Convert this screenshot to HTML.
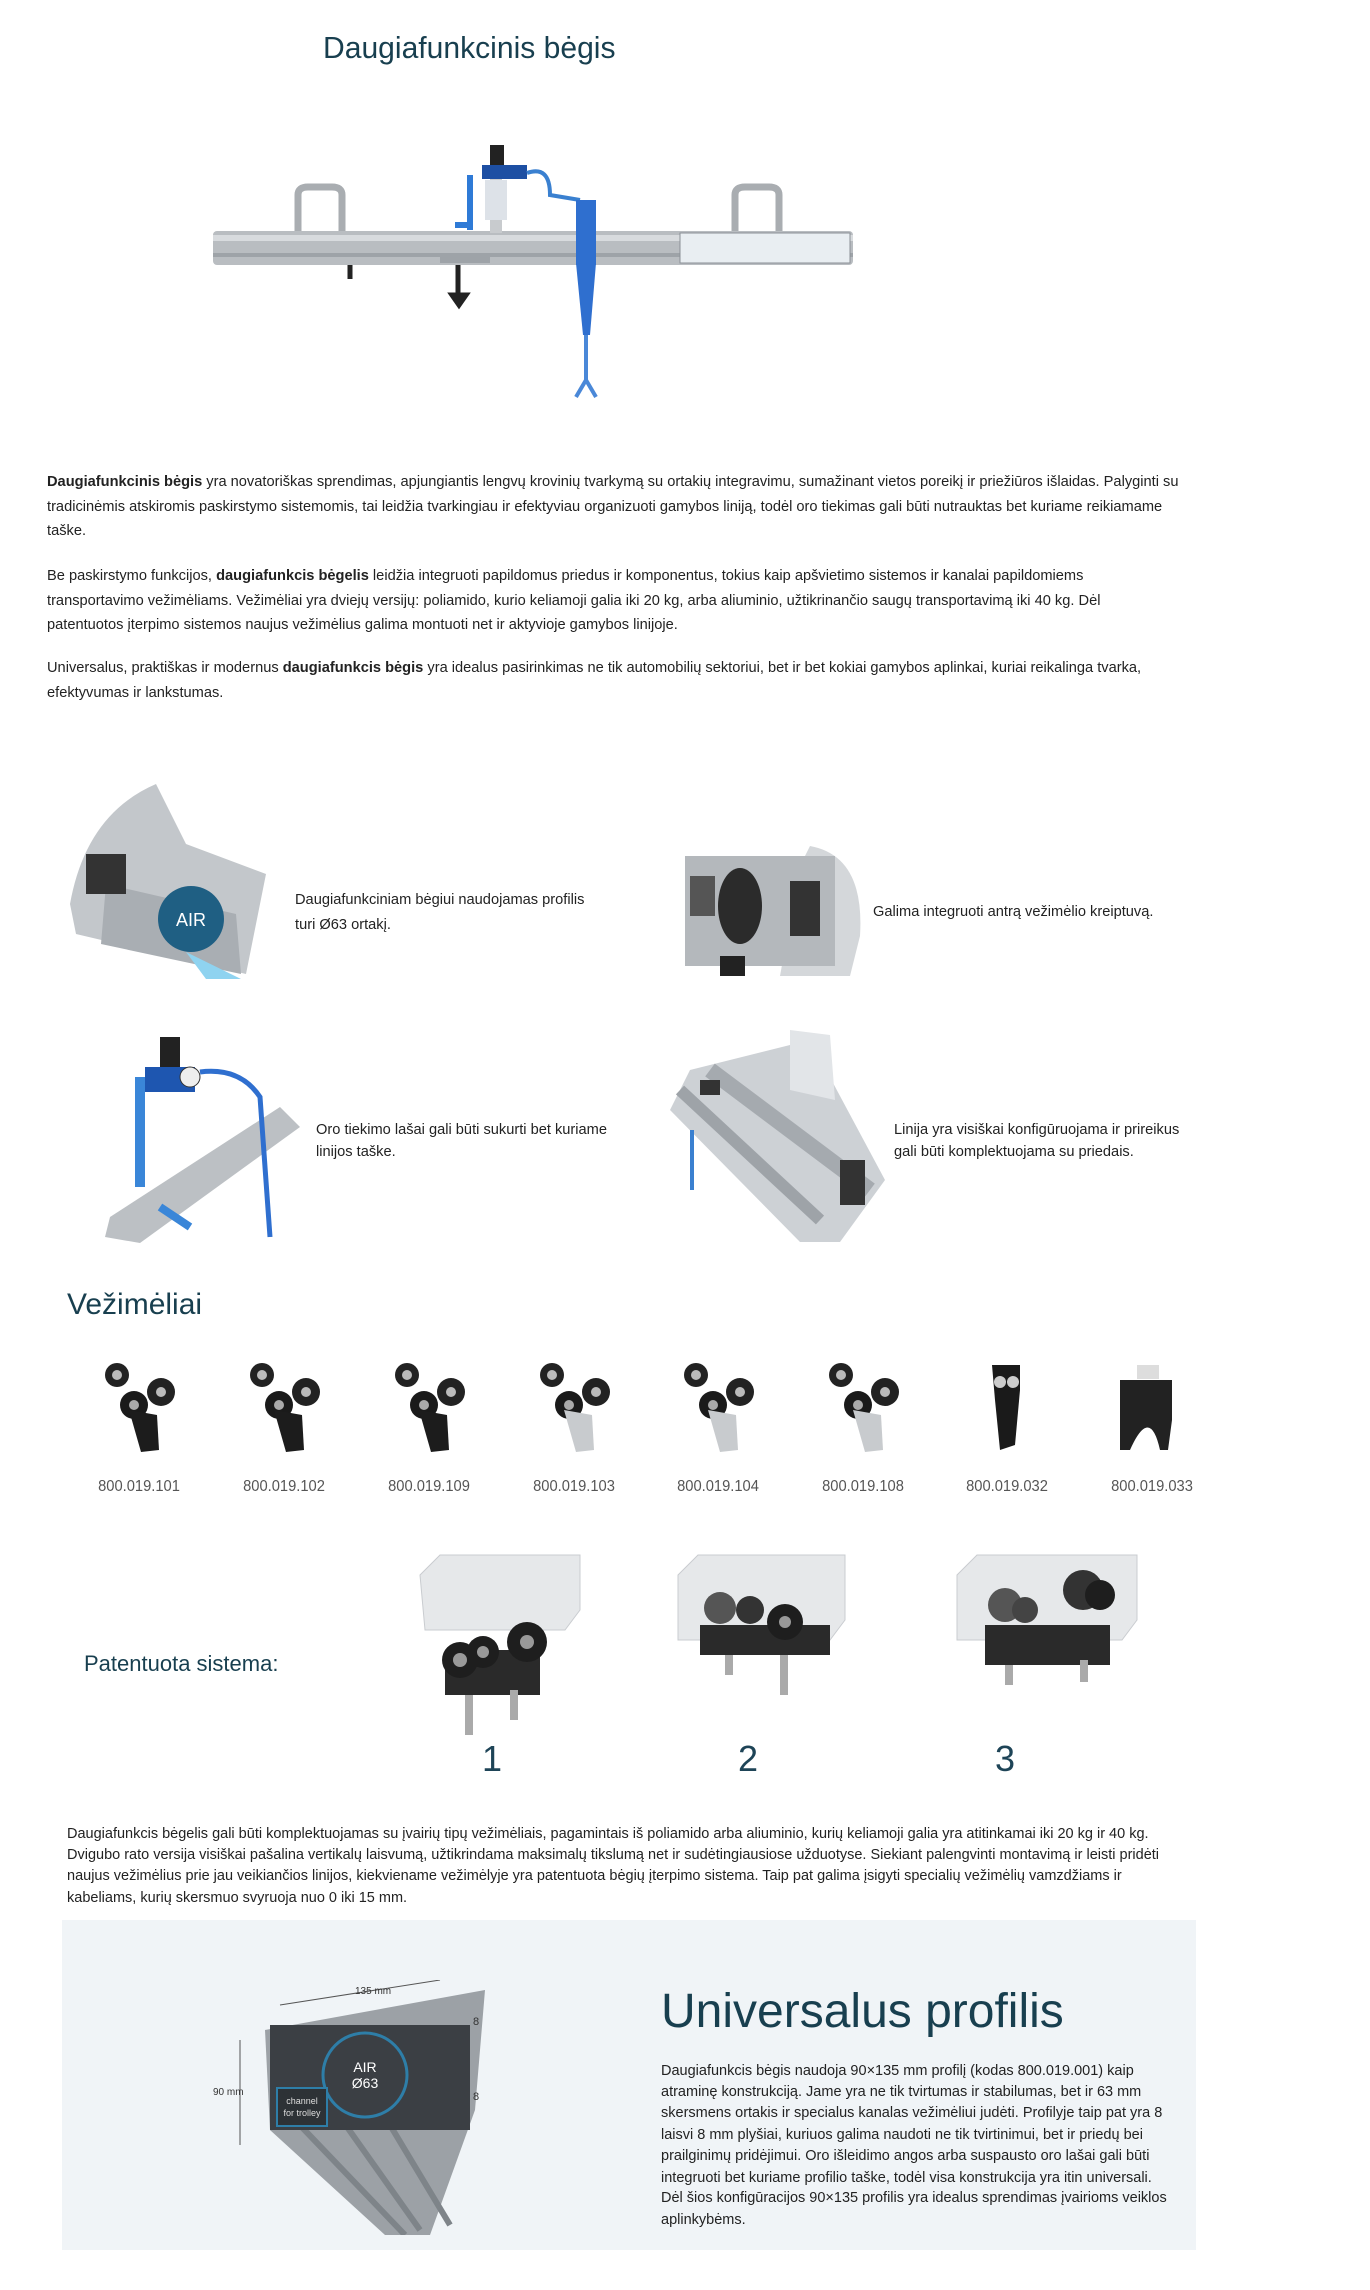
<!DOCTYPE html>
<html><head><meta charset="utf-8">
<style>
*{margin:0;padding:0;box-sizing:border-box}
body{width:1370px;height:2290px;background:#fff;position:relative;overflow:hidden;font-family:"Liberation Sans",sans-serif;color:#222}
.a{position:absolute}
.l{position:absolute;white-space:nowrap;font-size:15px;line-height:18px;transform:scaleX(.975);transform-origin:left center;color:#222}
.h{color:#183f4f}
.lab{position:absolute;font-size:16px;color:#555;transform:translateX(-50%) scaleX(.92);white-space:nowrap}
.num{position:absolute;font-size:36px;color:#1e4457;transform:translateX(-50%)}
</style></head><body>

<div class="a h" style="left:323px;top:30px;font-size:31px;transform:scaleX(.97);transform-origin:left;white-space:nowrap">Daugiafunkcinis bėgis</div>

<!-- hero rail -->
<svg class="a" style="left:200px;top:135px" width="680" height="270">
 <rect x="13" y="96" width="640" height="34" rx="4" fill="#b9bdc1"/>
 <rect x="13" y="100" width="640" height="6" fill="#d8dbde"/>
 <rect x="13" y="118" width="640" height="4" fill="#9ea3a8"/>
 <rect x="480" y="98" width="170" height="30" fill="#e9eef2" stroke="#8a9096"/>
 <path d="M98 96 V60 Q98 52 108 52 H132 Q142 52 142 60 V96" fill="none" stroke="#a9adb1" stroke-width="7"/>
 <path d="M535 96 V60 Q535 52 545 52 H569 Q579 52 579 60 V96" fill="none" stroke="#a9adb1" stroke-width="7"/>
 <rect x="290" y="42" width="12" height="56" fill="#c8cbce"/>
 <rect x="290" y="10" width="14" height="26" fill="#222"/>
 <rect x="282" y="30" width="45" height="14" fill="#1d4fa3"/>
 <rect x="285" y="45" width="22" height="40" fill="#dde2e8"/>
 <path d="M327 38 Q350 30 350 60 L380 65" fill="none" stroke="#3a80d0" stroke-width="4"/>
 <path d="M270 40 V95 M255 90 H270" stroke="#2f7ad6" stroke-width="6"/>
 <path d="M376 128 L396 128 L390 200 L383 200 Z" fill="#2f6fcf"/>
 <rect x="376" y="65" width="20" height="65" fill="#2f6fcf"/>
 <path d="M386 200 V245 L376 262 M386 245 L396 262" stroke="#4a88d8" stroke-width="4" fill="none"/>
 <path d="M150 130 v14 M258 130 v30 M252 160 h14 l-7 10z" stroke="#222" stroke-width="5" fill="#222"/>
 <rect x="240" y="120" width="50" height="8" fill="#9ea3a8"/>
</svg>

<div class="l" style="left:47px;top:473px"><b>Daugiafunkcinis bėgis</b> yra novatoriškas sprendimas, apjungiantis lengvų krovinių tvarkymą su ortakių integravimu, sumažinant vietos poreikį ir priežiūros išlaidas. Palyginti su</div>
<div class="l" style="left:47px;top:498px">tradicinėmis atskiromis paskirstymo sistemomis, tai leidžia tvarkingiau ir efektyviau organizuoti gamybos liniją, todėl oro tiekimas gali būti nutrauktas bet kuriame reikiamame</div>
<div class="l" style="left:47px;top:522px">taške.</div>
<div class="l" style="left:47px;top:567px">Be paskirstymo funkcijos, <b>daugiafunkcis bėgelis</b> leidžia integruoti papildomus priedus ir komponentus, tokius kaip apšvietimo sistemos ir kanalai papildomiems</div>
<div class="l" style="left:47px;top:592px">transportavimo vežimėliams. Vežimėliai yra dviejų versijų: poliamido, kurio keliamoji galia iki 20 kg, arba aliuminio, užtikrinančio saugų transportavimą iki 40 kg. Dėl</div>
<div class="l" style="left:47px;top:616px">patentuotos įterpimo sistemos naujus vežimėlius galima montuoti net ir aktyvioje gamybos linijoje.</div>
<div class="l" style="left:47px;top:659px">Universalus, praktiškas ir modernus <b>daugiafunkcis bėgis</b> yra idealus pasirinkimas ne tik automobilių sektoriui, bet ir bet kokiai gamybos aplinkai, kuriai reikalinga tvarka,</div>
<div class="l" style="left:47px;top:684px">efektyvumas ir lankstumas.</div>

<!-- feature images -->
<svg class="a" style="left:66px;top:784px" width="210" height="195">
 <path d="M90 0 Q20 30 4 120 L10 150 L180 190 L200 90 L120 60 Z" fill="#c3c7cb"/>
 <path d="M40 100 L170 130 L175 190 L35 160Z" fill="#a9aeb3"/>
 <rect x="20" y="70" width="40" height="40" fill="#333"/>
 <circle cx="125" cy="135" r="33" fill="#1f5f83"/>
 <text x="125" y="142" font-size="18" fill="#fff" text-anchor="middle" font-family="Liberation Sans">AIR</text>
 <path d="M120 168 L175 195 L140 195Z" fill="#8fd3f0"/>
</svg>
<div class="l" style="left:295px;top:891px">Daugiafunkciniam bėgiui naudojamas profilis</div>
<div class="l" style="left:295px;top:916px">turi Ø63 ortakį.</div>

<svg class="a" style="left:680px;top:836px" width="185" height="142">
 <path d="M130 10 Q185 20 180 100 L170 140 L100 140 L120 30Z" fill="#d4d7da"/>
 <rect x="5" y="20" width="150" height="110" fill="#b4b8bc"/>
 <ellipse cx="60" cy="70" rx="22" ry="38" fill="#2b2b2b"/>
 <rect x="10" y="40" width="25" height="40" fill="#555"/>
 <rect x="110" y="45" width="30" height="55" fill="#333"/>
 <rect x="40" y="120" width="25" height="20" fill="#222"/>
</svg>
<div class="l" style="left:873px;top:903px">Galima integruoti antrą vežimėlio kreiptuvą.</div>

<svg class="a" style="left:100px;top:1037px" width="200" height="206">
 <path d="M10 180 L180 70 L200 90 L40 206 L5 200Z" fill="#bcc0c4"/>
 <rect x="60" y="0" width="20" height="30" fill="#222"/>
 <rect x="45" y="30" width="50" height="25" fill="#1e56b0"/>
 <circle cx="90" cy="40" r="10" fill="#eee" stroke="#333"/>
 <path d="M40 40 V150" stroke="#3a86d8" stroke-width="10"/>
 <path d="M100 35 Q140 30 160 60 L170 200" stroke="#2f6fcf" stroke-width="5" fill="none"/>
 <path d="M60 170 L90 190" stroke="#3a86d8" stroke-width="8"/>
</svg>
<div class="l" style="left:316px;top:1121px">Oro tiekimo lašai gali būti sukurti bet kuriame</div>
<div class="l" style="left:316px;top:1143px">linijos taške.</div>

<svg class="a" style="left:670px;top:1030px" width="215" height="212">
 <path d="M20 40 L140 10 L215 150 L170 212 L130 212 L0 80Z" fill="#cdd1d5"/>
 <path d="M10 60 L150 190" stroke="#9ea3a8" stroke-width="12"/>
 <path d="M40 40 L200 160" stroke="#a5aaaf" stroke-width="16"/>
 <path d="M120 0 L160 5 L165 70 L120 60Z" fill="#e2e5e8"/>
 <rect x="30" y="50" width="20" height="15" fill="#333"/>
 <rect x="170" y="130" width="25" height="45" fill="#333"/>
 <path d="M22 100 V160" stroke="#3a80d0" stroke-width="4"/>
</svg>
<div class="l" style="left:894px;top:1121px">Linija yra visiškai konfigūruojama ir prireikus</div>
<div class="l" style="left:894px;top:1143px">gali būti komplektuojama su priedais.</div>

<div class="a h" style="left:67px;top:1288px;font-size:30px;white-space:nowrap">Vežimėliai</div>

<!-- trolleys -->
<svg class="a" style="left:0;top:1360px" width="1370" height="100">
 <defs>
  <g id="tb"><circle cx="-22" cy="15" r="12" fill="#222"/><circle cx="-22" cy="15" r="5" fill="#bbb"/><circle cx="22" cy="32" r="14" fill="#222"/><circle cx="22" cy="32" r="5" fill="#bbb"/><circle cx="-5" cy="45" r="14" fill="#1a1a1a"/><circle cx="-5" cy="45" r="5" fill="#aaa"/><path d="M-10 50 L18 55 L20 90 L2 92Z" fill="currentColor"/></g>
 </defs>
 <use href="#tb" x="139" style="color:#1c1c1c"/>
 <use href="#tb" x="284" style="color:#1c1c1c"/>
 <use href="#tb" x="429" style="color:#1c1c1c"/>
 <use href="#tb" x="574" style="color:#c8cbce"/>
 <use href="#tb" x="718" style="color:#c8cbce"/>
 <use href="#tb" x="863" style="color:#c8cbce"/>
 <path d="M992 5 H1020 V30 L1015 85 L1000 90 L995 40Z" fill="#1a1a1a"/>
 <circle cx="1000" cy="22" r="6" fill="#ccc"/><circle cx="1013" cy="22" r="6" fill="#ccc"/>
 <rect x="1137" y="5" width="22" height="14" fill="#ddd"/>
 <path d="M1120 20 H1172 V60 L1168 90 L1160 90 Q1150 45 1130 90 L1120 90Z" fill="#222"/>
</svg>
<div class="lab" style="left:139px;top:1478px">800.019.101</div>
<div class="lab" style="left:284px;top:1478px">800.019.102</div>
<div class="lab" style="left:429px;top:1478px">800.019.109</div>
<div class="lab" style="left:574px;top:1478px">800.019.103</div>
<div class="lab" style="left:718px;top:1478px">800.019.104</div>
<div class="lab" style="left:863px;top:1478px">800.019.108</div>
<div class="lab" style="left:1007px;top:1478px">800.019.032</div>
<div class="lab" style="left:1152px;top:1478px">800.019.033</div>

<div class="a h" style="left:84px;top:1651px;font-size:22px;white-space:nowrap">Patentuota sistema:</div>

<svg class="a" style="left:415px;top:1550px" width="740" height="195">
 <path d="M5 25 L25 5 H165 V60 L150 80 H10 Z" fill="#e6e8ea" stroke="#c9ccd0"/>
 <rect x="30" y="100" width="95" height="45" fill="#2a2a2a"/>
 <circle cx="45" cy="110" r="18" fill="#1e1e1e"/><circle cx="45" cy="110" r="7" fill="#999"/>
 <circle cx="68" cy="102" r="16" fill="#1e1e1e"/><circle cx="68" cy="102" r="6" fill="#999"/>
 <circle cx="112" cy="92" r="20" fill="#1e1e1e"/><circle cx="112" cy="92" r="7" fill="#999"/>
 <rect x="50" y="145" width="8" height="40" fill="#aaa"/><rect x="95" y="140" width="8" height="30" fill="#aaa"/>
 <path d="M263 25 L283 5 H430 V70 L415 90 H263Z" fill="#e6e8ea" stroke="#c9ccd0"/>
 <rect x="285" y="75" width="130" height="30" fill="#2a2a2a"/>
 <circle cx="305" cy="58" r="16" fill="#555"/><circle cx="335" cy="60" r="14" fill="#333"/><circle cx="370" cy="72" r="18" fill="#1e1e1e"/><circle cx="370" cy="72" r="6" fill="#999"/>
 <rect x="310" y="105" width="8" height="20" fill="#aaa"/><rect x="365" y="105" width="8" height="40" fill="#aaa"/>
 <path d="M542 25 L562 5 H722 V70 L707 90 H542Z" fill="#e6e8ea" stroke="#c9ccd0"/>
 <rect x="570" y="75" width="125" height="40" fill="#2a2a2a"/>
 <circle cx="590" cy="55" r="17" fill="#555"/><circle cx="610" cy="60" r="13" fill="#444"/><circle cx="668" cy="40" r="20" fill="#333"/><circle cx="685" cy="45" r="15" fill="#1e1e1e"/>
 <rect x="590" y="115" width="8" height="20" fill="#aaa"/><rect x="665" y="110" width="8" height="22" fill="#aaa"/>
</svg>
<div class="num" style="left:492px;top:1738px">1</div>
<div class="num" style="left:748px;top:1738px">2</div>
<div class="num" style="left:1005px;top:1738px">3</div>

<div class="l" style="left:67px;top:1825px;font-size:14.5px;transform:scaleX(1)">Daugiafunkcis bėgelis gali būti komplektuojamas su įvairių tipų vežimėliais, pagamintais iš poliamido arba aliuminio, kurių keliamoji galia yra atitinkamai iki 20 kg ir 40 kg.</div>
<div class="l" style="left:67px;top:1846px;font-size:14.5px;transform:scaleX(1)">Dvigubo rato versija visiškai pašalina vertikalų laisvumą, užtikrindama maksimalų tikslumą net ir sudėtingiausiose užduotyse. Siekiant palengvinti montavimą ir leisti pridėti</div>
<div class="l" style="left:67px;top:1867px;font-size:14.5px;transform:scaleX(1)">naujus vežimėlius prie jau veikiančios linijos, kiekviename vežimėlyje yra patentuota bėgių įterpimo sistema. Taip pat galima įsigyti specialių vežimėlių vamzdžiams ir</div>
<div class="l" style="left:67px;top:1889px;font-size:14.5px;transform:scaleX(1)">kabeliams, kurių skersmuo svyruoja nuo 0 iki 15 mm.</div>

<div class="a" style="left:62px;top:1920px;width:1134px;height:330px;background:#f0f4f7"></div>
<svg class="a" style="left:205px;top:1980px" width="280" height="255">
 <path d="M60 50 L280 10 L270 130 L225 255 L180 255 L65 150Z" fill="#9ca1a6"/>
 <path d="M90 140 L200 255 M130 130 L215 250 M170 120 L245 245" stroke="#7e8489" stroke-width="6"/>
 <rect x="65" y="45" width="200" height="105" fill="#3b3f44"/>
 <circle cx="160" cy="95" r="42" fill="#3b3f44" stroke="#2e7ea8" stroke-width="3"/>
 <text x="160" y="92" font-size="14" fill="#fff" text-anchor="middle" font-family="Liberation Sans">AIR</text>
 <text x="160" y="108" font-size="14" fill="#fff" text-anchor="middle" font-family="Liberation Sans">Ø63</text>
 <rect x="72" y="108" width="50" height="38" fill="#2d3236" stroke="#2e7ea8" stroke-width="2"/>
 <text x="97" y="124" font-size="9" fill="#ddd" text-anchor="middle" font-family="Liberation Sans">channel</text>
 <text x="97" y="136" font-size="9" fill="#ddd" text-anchor="middle" font-family="Liberation Sans">for trolley</text>
 <path d="M75 25 L235 0 M35 60 V165" stroke="#555" stroke-width="1"/>
 <text x="150" y="14" font-size="10" fill="#333" font-family="Liberation Sans">135 mm</text>
 <text x="8" y="115" font-size="10" fill="#333" font-family="Liberation Sans">90 mm</text>
 <text x="268" y="45" font-size="11" fill="#333">8</text><text x="268" y="120" font-size="11" fill="#333">8</text>
</svg>
<div class="a h" style="left:661px;top:1984px;font-size:48px;white-space:nowrap">Universalus profilis</div>
<div class="l" style="left:661px;top:2062px;font-size:14.5px;transform:scaleX(1)">Daugiafunkcis bėgis naudoja 90×135 mm profilį (kodas 800.019.001) kaip</div>
<div class="l" style="left:661px;top:2083px;font-size:14.5px;transform:scaleX(1)">atraminę konstrukciją. Jame yra ne tik tvirtumas ir stabilumas, bet ir 63 mm</div>
<div class="l" style="left:661px;top:2104px;font-size:14.5px;transform:scaleX(1)">skersmens ortakis ir specialus kanalas vežimėliui judėti. Profilyje taip pat yra 8</div>
<div class="l" style="left:661px;top:2126px;font-size:14.5px;transform:scaleX(1)">laisvi 8 mm plyšiai, kuriuos galima naudoti ne tik tvirtinimui, bet ir priedų bei</div>
<div class="l" style="left:661px;top:2147px;font-size:14.5px;transform:scaleX(1)">prailginimų pridėjimui. Oro išleidimo angos arba suspausto oro lašai gali būti</div>
<div class="l" style="left:661px;top:2169px;font-size:14.5px;transform:scaleX(1)">integruoti bet kuriame profilio taške, todėl visa konstrukcija yra itin universali.</div>
<div class="l" style="left:661px;top:2189px;font-size:14.5px;transform:scaleX(1)">Dėl šios konfigūracijos 90×135 profilis yra idealus sprendimas įvairioms veiklos</div>
<div class="l" style="left:661px;top:2211px;font-size:14.5px;transform:scaleX(1)">aplinkybėms.</div>
</body></html>
